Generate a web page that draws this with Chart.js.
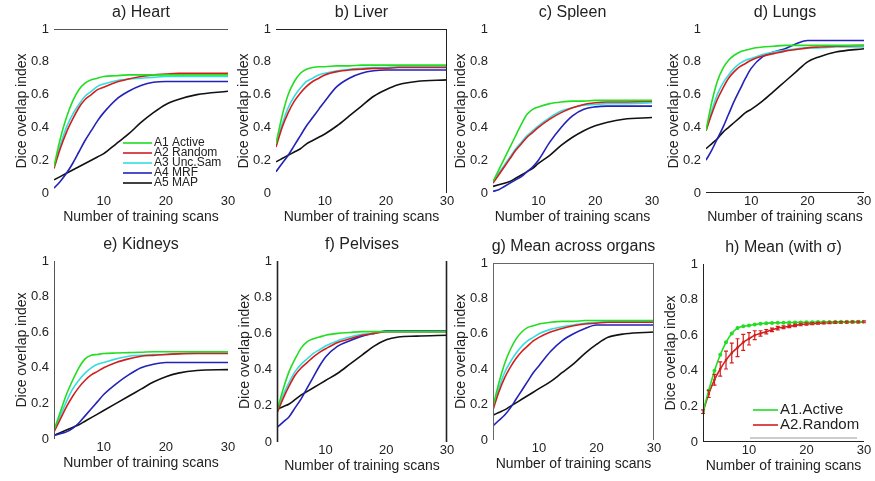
<!DOCTYPE html>
<html>
<head>
<meta charset="utf-8">
<script src="https://cdn.jsdelivr.net/npm/chart.js@4"></script>
<style>
  body { margin: 0; background: #fff; }
  #wrap { position: relative; width: 875px; height: 481px; overflow: hidden; }
  #wrap canvas { position: absolute; }
</style>
</head>
<body>
<div id="wrap"></div>
<script>
// number of training scans (x) used for the organ panels
const xs = [2, 3, 4, 5, 6, 7, 8, 9, 10, 12, 14, 16, 18, 20, 22, 25, 30];
const xTicks = [10, 20, 30];
const yTicks = [0, 0.2, 0.4, 0.6, 0.8, 1];
const methods = ['A1 Active', 'A2 Random', 'A3 Unc.Sam', 'A4 MRF', 'A5 MAP'];

// one row per method, in the order of `methods`
const heart = [
  [0.16, 0.33, 0.46, 0.56, 0.63, 0.67, 0.69, 0.70, 0.71, 0.715, 0.72, 0.72, 0.72, 0.72, 0.72, 0.72, 0.72],
  [0.15, 0.27, 0.37, 0.45, 0.52, 0.57, 0.60, 0.63, 0.645, 0.675, 0.695, 0.71, 0.72, 0.725, 0.73, 0.73, 0.73],
  [0.16, 0.29, 0.40, 0.48, 0.54, 0.59, 0.62, 0.65, 0.665, 0.685, 0.695, 0.70, 0.705, 0.71, 0.71, 0.71, 0.71],
  [0.03, 0.07, 0.12, 0.18, 0.25, 0.32, 0.38, 0.44, 0.49, 0.57, 0.62, 0.655, 0.675, 0.68, 0.68, 0.68, 0.68],
  [0.08, 0.10, 0.12, 0.14, 0.16, 0.18, 0.20, 0.22, 0.24, 0.30, 0.36, 0.43, 0.49, 0.54, 0.57, 0.60, 0.62]
];
const liver = [
  [0.30, 0.47, 0.60, 0.68, 0.73, 0.755, 0.765, 0.77, 0.77, 0.775, 0.775, 0.78, 0.78, 0.78, 0.78, 0.78, 0.78],
  [0.28, 0.40, 0.49, 0.56, 0.61, 0.65, 0.68, 0.70, 0.72, 0.74, 0.75, 0.755, 0.76, 0.76, 0.765, 0.765, 0.765],
  [0.30, 0.42, 0.52, 0.59, 0.64, 0.68, 0.70, 0.72, 0.73, 0.745, 0.755, 0.76, 0.765, 0.765, 0.77, 0.77, 0.77],
  [0.13, 0.18, 0.23, 0.29, 0.35, 0.41, 0.46, 0.51, 0.56, 0.65, 0.70, 0.73, 0.745, 0.75, 0.75, 0.75, 0.75],
  [0.19, 0.21, 0.23, 0.25, 0.27, 0.30, 0.32, 0.34, 0.36, 0.41, 0.47, 0.53, 0.59, 0.63, 0.66, 0.68, 0.69]
];
const spleen = [
  [0.07, 0.14, 0.21, 0.28, 0.35, 0.42, 0.48, 0.51, 0.525, 0.545, 0.555, 0.56, 0.56, 0.565, 0.565, 0.565, 0.565],
  [0.06, 0.11, 0.16, 0.21, 0.26, 0.30, 0.34, 0.37, 0.40, 0.45, 0.49, 0.52, 0.54, 0.55, 0.555, 0.555, 0.56],
  [0.07, 0.12, 0.17, 0.22, 0.27, 0.31, 0.35, 0.38, 0.41, 0.46, 0.50, 0.52, 0.535, 0.54, 0.545, 0.545, 0.55],
  [0.01, 0.02, 0.04, 0.06, 0.08, 0.10, 0.13, 0.16, 0.20, 0.31, 0.40, 0.47, 0.51, 0.525, 0.53, 0.53, 0.53],
  [0.04, 0.05, 0.06, 0.07, 0.09, 0.11, 0.13, 0.15, 0.18, 0.23, 0.29, 0.34, 0.38, 0.41, 0.43, 0.45, 0.46]
];
const lungs = [
  [0.38, 0.55, 0.68, 0.76, 0.81, 0.84, 0.86, 0.87, 0.88, 0.89, 0.895, 0.90, 0.90, 0.90, 0.90, 0.90, 0.90],
  [0.38, 0.48, 0.57, 0.64, 0.70, 0.74, 0.77, 0.79, 0.81, 0.835, 0.85, 0.865, 0.875, 0.885, 0.89, 0.895, 0.90],
  [0.38, 0.50, 0.60, 0.67, 0.72, 0.76, 0.79, 0.81, 0.82, 0.845, 0.86, 0.87, 0.88, 0.885, 0.885, 0.89, 0.89],
  [0.20, 0.26, 0.33, 0.40, 0.48, 0.56, 0.63, 0.70, 0.76, 0.83, 0.86, 0.88, 0.91, 0.93, 0.93, 0.93, 0.93],
  [0.27, 0.30, 0.33, 0.37, 0.40, 0.43, 0.46, 0.49, 0.51, 0.56, 0.62, 0.68, 0.74, 0.80, 0.83, 0.86, 0.88]
];
const kidneys = [
  [0.05, 0.15, 0.25, 0.33, 0.40, 0.45, 0.47, 0.475, 0.48, 0.483, 0.485, 0.487, 0.49, 0.49, 0.49, 0.49, 0.49],
  [0.04, 0.11, 0.18, 0.24, 0.29, 0.33, 0.36, 0.38, 0.40, 0.43, 0.45, 0.465, 0.47, 0.475, 0.478, 0.48, 0.48],
  [0.05, 0.13, 0.21, 0.28, 0.33, 0.37, 0.40, 0.42, 0.43, 0.45, 0.465, 0.47, 0.475, 0.475, 0.48, 0.485, 0.485],
  [0.02, 0.03, 0.04, 0.06, 0.09, 0.13, 0.17, 0.21, 0.25, 0.31, 0.36, 0.40, 0.42, 0.43, 0.43, 0.43, 0.43],
  [0.02, 0.035, 0.05, 0.065, 0.08, 0.10, 0.12, 0.14, 0.16, 0.20, 0.24, 0.28, 0.32, 0.35, 0.37, 0.385, 0.39]
];
const pelvises = [
  [0.17, 0.29, 0.39, 0.46, 0.52, 0.555, 0.57, 0.58, 0.59, 0.60, 0.605, 0.61, 0.61, 0.61, 0.61, 0.61, 0.61],
  [0.16, 0.24, 0.31, 0.37, 0.41, 0.44, 0.47, 0.495, 0.515, 0.55, 0.57, 0.59, 0.60, 0.61, 0.61, 0.61, 0.61],
  [0.17, 0.26, 0.33, 0.39, 0.43, 0.46, 0.49, 0.51, 0.53, 0.56, 0.58, 0.595, 0.60, 0.61, 0.61, 0.61, 0.61],
  [0.08, 0.11, 0.14, 0.19, 0.24, 0.30, 0.36, 0.42, 0.47, 0.53, 0.56, 0.585, 0.60, 0.615, 0.615, 0.615, 0.615],
  [0.18, 0.195, 0.21, 0.235, 0.26, 0.28, 0.30, 0.32, 0.34, 0.38, 0.43, 0.48, 0.53, 0.565, 0.58, 0.585, 0.59]
];
const meanOrgans = [
  [0.19, 0.32, 0.43, 0.51, 0.57, 0.61, 0.635, 0.645, 0.655, 0.665, 0.67, 0.67, 0.675, 0.675, 0.675, 0.675, 0.675],
  [0.17, 0.27, 0.35, 0.41, 0.46, 0.50, 0.53, 0.56, 0.58, 0.61, 0.63, 0.645, 0.655, 0.66, 0.665, 0.665, 0.665],
  [0.18, 0.29, 0.38, 0.44, 0.49, 0.53, 0.56, 0.58, 0.60, 0.625, 0.64, 0.65, 0.66, 0.665, 0.67, 0.67, 0.67],
  [0.08, 0.11, 0.14, 0.18, 0.23, 0.28, 0.33, 0.38, 0.42, 0.50, 0.56, 0.60, 0.63, 0.65, 0.65, 0.65, 0.65],
  [0.14, 0.155, 0.17, 0.19, 0.21, 0.23, 0.25, 0.27, 0.29, 0.33, 0.38, 0.43, 0.49, 0.54, 0.58, 0.60, 0.61]
];

// panel h: every scan count, mean with standard deviation
const xsH = [2, 3, 4, 5, 6, 7, 8, 9, 10, 11, 12, 13, 14, 15, 16, 17, 18, 19, 20, 21, 22, 23, 24, 25, 26, 27, 28, 29, 30];
const meanMethods = ['A1.Active', 'A2.Random'];
const meanActive = [0.17, 0.29, 0.40, 0.49, 0.56, 0.61, 0.64, 0.65, 0.655, 0.66, 0.665, 0.667, 0.669, 0.67, 0.67, 0.671,
  0.672, 0.672, 0.673, 0.673, 0.674, 0.674, 0.674, 0.675, 0.675, 0.675, 0.675, 0.675, 0.675];
const meanRandom = [0.17, 0.27, 0.35, 0.41, 0.46, 0.50, 0.53, 0.56, 0.58, 0.60, 0.61, 0.62, 0.63, 0.64, 0.645, 0.65,
  0.655, 0.66, 0.663, 0.665, 0.667, 0.669, 0.67, 0.671, 0.672, 0.673, 0.674, 0.674, 0.675];
const randomSigma = [0.01, 0.02, 0.03, 0.04, 0.05, 0.055, 0.05, 0.045, 0.035, 0.025, 0.015, 0.012, 0.01, 0.01, 0.008,
  0.008, 0.007, 0.007, 0.006, 0.006, 0.005, 0.005, 0.005, 0.005, 0.005, 0.005, 0.005, 0.005, 0.005];

const colors = ['#22dd22', '#d41e1e', '#33dede', '#2222b8', '#111111'];
const FONT = "'Liberation Sans', Arial, sans-serif";
const YW = 44, PL = 10, PT = 29, XH = 37, PR = 14, PB = 2;

Chart.defaults.font.family = FONT;
Chart.defaults.color = '#222';

const panelDeco = {
  id: 'panelDeco',
  afterDatasetsDraw(chart, args, o) {
    const { ctx, chartArea: a, scales } = chart;
    ctx.save();
    if (o.sigma) {
      const ds = chart.data.datasets[o.sigmaOf];
      ctx.strokeStyle = ds.borderColor;
      ctx.lineWidth = 1.2;
      ds.data.forEach((p, i) => {
        const s = o.sigma[i];
        const px = scales.x.getPixelForValue(p.x);
        const y1 = scales.y.getPixelForValue(p.y - s);
        const y2 = scales.y.getPixelForValue(p.y + s);
        ctx.beginPath();
        ctx.moveTo(px, y1); ctx.lineTo(px, y2);
        ctx.moveTo(px - 2, y1); ctx.lineTo(px + 2, y1);
        ctx.moveTo(px - 2, y2); ctx.lineTo(px + 2, y2);
        ctx.stroke();
      });
    }
    ctx.strokeStyle = o.frameColor || '#222';
    ctx.lineWidth = o.frameWidth || 1;
    (o.sides || []).forEach(side => {
      ctx.beginPath();
      if (side === 'top') { ctx.moveTo(a.left, a.top + 0.5); ctx.lineTo(a.right, a.top + 0.5); }
      if (side === 'bottom') { ctx.moveTo(a.left, a.bottom - 0.5); ctx.lineTo(a.right, a.bottom - 0.5); }
      if (side === 'left') { ctx.moveTo(a.left + 0.5, a.top); ctx.lineTo(a.left + 0.5, a.bottom); }
      if (side === 'right') { ctx.moveTo(a.right - 0.5, a.top); ctx.lineTo(a.right - 0.5, a.bottom); }
      ctx.stroke();
    });
    if (o.legend) {
      const lg = o.legend;
      ctx.font = lg.size + 'px ' + FONT;
      ctx.textBaseline = 'middle';
      ctx.fillStyle = '#222';
      chart.data.datasets.forEach((ds, i) => {
        const y = a.top + lg.y + i * lg.step;
        ctx.strokeStyle = ds.borderColor;
        ctx.lineWidth = 1.6;
        ctx.beginPath();
        ctx.moveTo(a.left + lg.x0, y); ctx.lineTo(a.left + lg.x1, y);
        ctx.stroke();
        ctx.fillText(ds.label, a.left + lg.x1 + 2, y);
      });
      if (lg.rule) {
        ctx.strokeStyle = '#999';
        ctx.lineWidth = 1;
        ctx.beginPath();
        ctx.moveTo(a.left + lg.rule[0], a.top + lg.rule[2]);
        ctx.lineTo(a.left + lg.rule[1], a.top + lg.rule[2]);
        ctx.stroke();
      }
    }
    ctx.restore();
  },
  afterDraw(chart, args, o) {
    const { ctx, chartArea: a } = chart;
    ctx.save();
    ctx.font = '16px ' + FONT;
    ctx.fillStyle = '#222';
    ctx.textAlign = 'center';
    ctx.textBaseline = 'middle';
    ctx.fillText(o.title, (a.left + a.right) / 2, a.top - 16);
    ctx.restore();
  }
};
Chart.register(panelDeco);

function makePanel(rect, datasets, deco) {
  const [L, T, R, B] = rect;
  const c = document.createElement('canvas');
  c.width = R - L + YW + PL + PR;
  c.height = B - T + PT + XH + PB;
  c.style.left = (L - YW - PL) + 'px';
  c.style.top = (T - PT) + 'px';
  document.getElementById('wrap').appendChild(c);

  new Chart(c, {
    type: 'line',
    data: { datasets },
    options: {
      responsive: false,
      animation: false,
      layout: { padding: { left: PL, top: PT, right: PR, bottom: PB } },
      plugins: { legend: { display: false }, tooltip: { enabled: false }, panelDeco: deco },
      scales: {
        x: {
          type: 'linear', min: 2, max: 30,
          grid: { display: false, drawTicks: false }, border: { display: false },
          afterBuildTicks: s => { s.ticks = xTicks.map(v => ({ value: v })); },
          ticks: { font: { size: 13 }, padding: 1, maxRotation: 0, autoSkip: false },
          title: { display: true, text: 'Number of training scans', font: { size: 14 } },
          afterFit: s => { s.height = XH; }
        },
        y: {
          min: 0, max: 1,
          grid: { display: false, drawTicks: false }, border: { display: false },
          afterBuildTicks: s => { s.ticks = yTicks.map(v => ({ value: v })); },
          ticks: { font: { size: 13 }, padding: 5, callback: v => String(+v.toFixed(1)) },
          title: { display: true, text: 'Dice overlap index', font: { size: 14 } },
          afterFit: s => { s.width = YW; }
        }
      }
    }
  });
}

function organSets(rows) {
  return rows.map((vals, i) => ({
    label: methods[i],
    data: xs.map((x, j) => ({ x, y: vals[j] })),
    borderColor: colors[i],
    borderWidth: 1.6,
    pointRadius: 0,
    cubicInterpolationMode: 'monotone'
  }));
}

makePanel([54, 29, 228, 193], organSets(heart),
  { title: 'a) Heart', sides: ['top'], frameColor: '#555',
    legend: { x0: 69, x1: 98, y: 114, step: 10, size: 12 } });
makePanel([276, 29, 447, 193], organSets(liver), { title: 'b) Liver', sides: ['top', 'right'] });
makePanel([493, 29, 652, 193], organSets(spleen), { title: 'c) Spleen', sides: [] });
makePanel([706, 29, 864, 193], organSets(lungs), { title: 'd) Lungs', sides: ['bottom'] });
makePanel([54, 261, 228, 439], organSets(kidneys), { title: 'e) Kidneys', sides: ['left'], frameColor: '#555' });
makePanel([277, 261, 447, 442], organSets(pelvises), { title: 'f) Pelvises', sides: ['left', 'right'], frameWidth: 1.6 });
makePanel([493, 263, 654, 440], organSets(meanOrgans),
  { title: 'g) Mean across organs', sides: ['top', 'left', 'right'], frameColor: '#666' });

const hSets = [meanActive, meanRandom].map((vals, i) => ({
  label: meanMethods[i],
  data: xsH.map((x, j) => ({ x, y: vals[j] })),
  borderColor: colors[i],
  backgroundColor: colors[i],
  borderWidth: 1.6,
  pointRadius: i === 0 ? 2 : 1.3,
  pointBorderWidth: 0,
  cubicInterpolationMode: 'monotone'
}));
makePanel([703, 264, 864, 442], hSets,
  { title: 'h) Mean (with \u03c3)', sides: ['left', 'bottom'], sigma: randomSigma, sigmaOf: 1,
    legend: { x0: 50, x1: 75, y: 146, step: 15, size: 15, rule: [47, 154, 174] } });
</script>
</body>
</html>
